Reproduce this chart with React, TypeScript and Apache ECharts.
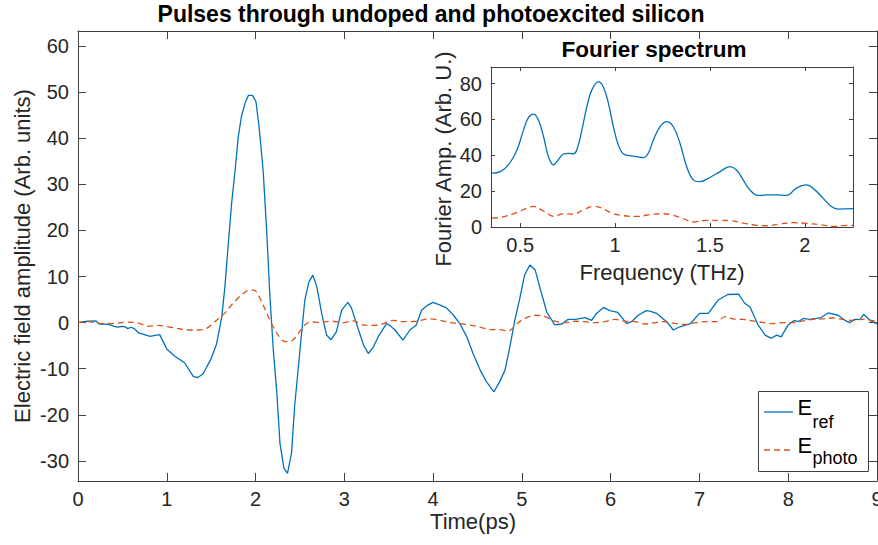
import React, { useEffect, useRef } from 'react';
import * as echarts from 'echarts';

// ---- Time-domain pulses (time in ps, field in arb. units) ----
const refTime = [0, 0.11, 0.2, 0.24, 0.34, 0.41, 0.45, 0.49, 0.53, 0.56, 0.6, 0.64, 0.68, 0.75, 0.81, 0.92, 1.0, 1.09, 1.2, 1.3, 1.35, 1.41, 1.5, 1.56, 1.62, 1.655, 1.69, 1.73, 1.77, 1.805, 1.84, 1.88, 1.92, 1.965, 2.005, 2.04, 2.085, 2.125, 2.16, 2.2, 2.24, 2.275, 2.32, 2.36, 2.405, 2.44, 2.5, 2.555, 2.6, 2.645, 2.69, 2.745, 2.8, 2.85, 2.91, 2.97, 3.04, 3.08, 3.16, 3.22, 3.27, 3.33, 3.38, 3.475, 3.52, 3.57, 3.66, 3.74, 3.81, 3.87, 3.94, 4.0, 4.08, 4.15, 4.23, 4.3, 4.38, 4.45, 4.53, 4.6, 4.685, 4.75, 4.81, 4.865, 4.92, 4.98, 5.03, 5.09, 5.15, 5.2, 5.28, 5.37, 5.45, 5.52, 5.6, 5.71, 5.785, 5.84, 5.92, 5.99, 6.08, 6.18, 6.235, 6.31, 6.4, 6.44, 6.52, 6.63, 6.705, 6.78, 6.9, 7.0, 7.1, 7.21, 7.32, 7.44, 7.51, 7.57, 7.66, 7.74, 7.81, 7.87, 7.92, 8.0, 8.07, 8.11, 8.17, 8.24, 8.32, 8.37, 8.45, 8.56, 8.64, 8.69, 8.75, 8.81, 8.85, 8.92, 8.97, 9.0];
const refField = [0.0, 0.3, 0.4, -0.3, -0.4, -0.8, -1.0, -0.8, -0.9, -1.3, -1.0, -1.4, -2.2, -2.6, -3.0, -2.6, -5.7, -7.3, -8.7, -11.7, -11.9, -11.1, -7.8, -4.7, 1.3, 7.8, 16.4, 25.8, 33.1, 40.3, 44.6, 47.5, 49.3, 49.3, 47.9, 42.4, 33.1, 20.0, 6.3, -6.0, -15.3, -26.2, -31.6, -32.7, -28.3, -18.2, -6.0, 4.9, 8.8, 10.3, 7.8, 2.0, -2.7, -3.7, -2.0, 2.7, 4.4, 3.2, -1.6, -5.0, -6.7, -5.2, -3.1, -0.2, -0.7, -1.6, -3.8, -1.6, -0.5, 2.7, 3.8, 4.4, 3.8, 3.2, 1.6, -0.2, -3.1, -6.7, -10.3, -12.8, -15.0, -12.8, -10.3, -5.2, 0.5, 5.6, 10.3, 12.5, 11.4, 7.8, 2.3, -0.5, -0.3, 0.7, 0.7, 1.1, 0.5, 2.0, 3.3, 2.6, 2.2, -0.2, 0.2, 1.6, 2.6, 2.5, 2.0, 0.2, -1.6, -0.9, -0.2, 2.0, 2.0, 4.9, 6.1, 6.2, 4.2, 3.4, -0.5, -2.7, -3.4, -2.7, -3.1, -0.5, 0.5, 0.2, 0.9, 0.7, 0.9, 1.1, 2.1, 1.6, 0.5, 0.0, 0.7, 0.7, 1.8, 0.5, 0.0, -0.2];

const photoTime = [0, 0.11, 0.225, 0.375, 0.56, 0.68, 0.79, 0.9, 1.05, 1.2, 1.35, 1.445, 1.54, 1.65, 1.76, 1.88, 1.94, 1.99, 2.03, 2.105, 2.18, 2.255, 2.33, 2.4, 2.48, 2.555, 2.63, 2.72, 2.86, 2.99, 3.1, 3.21, 3.33, 3.44, 3.55, 3.66, 3.81, 3.96, 4.08, 4.19, 4.3, 4.41, 4.53, 4.64, 4.75, 4.85, 4.93, 5.03, 5.15, 5.26, 5.37, 5.48, 5.6, 5.71, 5.82, 5.93, 6.05, 6.16, 6.28, 6.39, 6.5, 6.59, 6.74, 6.85, 6.96, 7.07, 7.19, 7.29, 7.38, 7.49, 7.6, 7.72, 7.83, 7.94, 8.06, 8.17, 8.28, 8.39, 8.5, 8.61, 8.73, 8.84, 9.0];
const photoField = [0.0, 0.2, -0.1, -0.2, 0.1, -0.1, -0.8, -0.6, -1.0, -1.5, -1.6, -1.3, 0.2, 2.0, 4.5, 6.6, 7.1, 7.0, 6.0, 3.0, -0.2, -2.7, -4.1, -4.0, -2.4, -0.5, 0.2, 0.0, 0.3, 0.0, 0.4, -0.5, -0.6, -0.2, 0.5, 0.2, 0.3, 0.8, 0.5, 0.0, -0.2, -0.5, -1.0, -1.5, -1.5, -1.8, -0.5, 0.9, 1.6, 1.3, 0.3, 0.0, 0.3, 0.2, 0.0, 0.2, 0.7, 0.3, 0.2, -0.3, 0.0, 0.2, -0.2, -0.4, 0.0, 0.2, 0.2, 1.3, 0.8, 0.7, 0.4, 0.0, -0.2, 0.0, 0.0, 0.4, 0.7, 0.8, 1.0, 0.7, 0.5, 0.7, 0.2];

// ---- Fourier spectrum (THz, arb. units) ----
const freqRef = [0.351, 0.395, 0.438, 0.483, 0.517, 0.544, 0.57, 0.596, 0.623, 0.649, 0.675, 0.7, 0.728, 0.754, 0.78, 0.798, 0.825, 0.851, 0.877, 0.912, 0.938, 0.965, 0.991, 1.017, 1.044, 1.079, 1.114, 1.149, 1.175, 1.202, 1.237, 1.272, 1.307, 1.342, 1.377, 1.412, 1.447, 1.5, 1.553, 1.605, 1.64, 1.675, 1.71, 1.754, 1.807, 1.851, 1.904, 1.956, 2.009, 2.053, 2.096, 2.14, 2.175, 2.254];
const ampRef = [30.0, 30.9, 34.6, 42.9, 54.0, 61.1, 62.9, 59.6, 50.3, 39.2, 34.6, 37.4, 40.7, 41.1, 40.7, 42.9, 54.0, 67.0, 76.3, 80.9, 78.1, 68.9, 55.9, 45.7, 40.7, 39.8, 39.2, 38.7, 41.1, 48.5, 55.9, 58.7, 55.9, 46.7, 33.7, 26.3, 25.3, 27.6, 30.9, 33.7, 31.8, 26.3, 20.7, 17.6, 17.9, 17.9, 17.6, 21.7, 23.5, 20.7, 16.1, 11.4, 10.0, 10.2];
const freqPhoto = [0.351, 0.4, 0.483, 0.535, 0.57, 0.605, 0.64, 0.675, 0.728, 0.78, 0.833, 0.886, 0.93, 0.983, 1.044, 1.114, 1.202, 1.254, 1.307, 1.36, 1.412, 1.482, 1.553, 1.614, 1.675, 1.745, 1.798, 1.868, 1.939, 2.009, 2.079, 2.149, 2.2, 2.254];
const ampPhoto = [5.0, 5.4, 8.1, 10.5, 11.5, 10.0, 7.8, 5.9, 7.4, 7.2, 9.6, 11.5, 10.5, 7.8, 6.3, 5.9, 7.2, 7.4, 6.5, 4.6, 2.8, 3.7, 3.7, 3.5, 2.2, 0.9, 0.7, 1.7, 2.4, 2.0, 1.3, 0.4, 0.8, 0.9];

// ---- Tick values ----
const mainXTicks = [0, 1, 2, 3, 4, 5, 6, 7, 8, 9];
const mainYTicks = [-30, -20, -10, 0, 10, 20, 30, 40, 50, 60];
const insetXTicks = [0.5, 1, 1.5, 2];
const insetYTicks = [0, 20, 40, 60, 80];

const zip = (xs: number[], ys: number[]) => xs.map((x, i) => [x, ys[i]]);

const FONT = '"Liberation Sans", Arial, Helvetica, sans-serif';
const AX = '#404040';
const TXT = '#262626';
const BLUE = '#0072BD';
const ORANGE = '#D95319';

function valueAxis(opts: any) {
  const { grid, min, max, ticks, pos, labels, tickLen, dim } = opts;
  return {
    type: 'value',
    gridIndex: grid,
    position: pos,
    min,
    max,
    scale: true,
    axisLine: { show: true, onZero: false, lineStyle: { color: AX, width: 1 } },
    axisTick: { show: true, inside: true, length: tickLen, customValues: ticks, lineStyle: { color: AX, width: 1 } },
    axisLabel: labels
      ? {
          show: true,
          customValues: ticks,
          fontSize: 20,
          color: TXT,
          fontFamily: FONT,
          margin: dim === 'x' ? 8 : 9,
          showMinLabel: true,
          showMaxLabel: true,
          hideOverlap: false,
        }
      : { show: false },
    splitLine: { show: false },
    minorTick: { show: false },
  };
}

function txt(x: number, y: number, text: string, size: number, extra: any = {}) {
  return {
    type: 'text',
    x,
    y,
    rotation: extra.rotation || 0,
    silent: true,
    style: {
      text,
      fontSize: size,
      fontFamily: FONT,
      fontWeight: extra.bold ? 'bold' : 'normal',
      fill: extra.fill || (extra.bold ? '#000' : TXT),
      align: extra.align || 'center',
      verticalAlign: 'middle',
      textAlign: extra.align || 'center',
      textVerticalAlign: 'middle',
    },
  };
}

export default function App() {
  const ref = useRef<HTMLDivElement>(null);
  useEffect(() => {
    if (!ref.current) return;
    const chart = echarts.init(ref.current, null, { renderer: 'svg' });
    const option: any = {
      animation: false,
      backgroundColor: '#fff',
      textStyle: { fontFamily: FONT },
      grid: [
        { left: 78, top: 31, width: 799, height: 450, outerBoundsMode: 'none', containLabel: false },
        {
          left: 491,
          top: 67,
          width: 362,
          height: 160,
          show: true,
          backgroundColor: '#fff',
          borderWidth: 0,
          outerBoundsMode: 'none',
          containLabel: false,
        },
      ],
      xAxis: [
        valueAxis({ grid: 0, min: 0, max: 9, ticks: mainXTicks, pos: 'bottom', labels: true, tickLen: 8, dim: 'x' }),
        valueAxis({ grid: 0, min: 0, max: 9, ticks: mainXTicks, pos: 'top', labels: false, tickLen: 8, dim: 'x' }),
        valueAxis({ grid: 1, min: 0.346, max: 2.254, ticks: insetXTicks, pos: 'bottom', labels: true, tickLen: 4, dim: 'x' }),
        valueAxis({ grid: 1, min: 0.346, max: 2.254, ticks: insetXTicks, pos: 'top', labels: false, tickLen: 4, dim: 'x' }),
      ],
      yAxis: [
        valueAxis({ grid: 0, min: -34.35, max: 63.25, ticks: mainYTicks, pos: 'left', labels: true, tickLen: 8, dim: 'y' }),
        valueAxis({ grid: 0, min: -34.35, max: 63.25, ticks: mainYTicks, pos: 'right', labels: false, tickLen: 8, dim: 'y' }),
        valueAxis({ grid: 1, min: 0, max: 89.2, ticks: insetYTicks, pos: 'left', labels: true, tickLen: 4, dim: 'y' }),
        valueAxis({ grid: 1, min: 0, max: 89.2, ticks: insetYTicks, pos: 'right', labels: false, tickLen: 4, dim: 'y' }),
      ],
      series: [
        {
          name: 'E_ref',
          type: 'line',
          xAxisIndex: 0,
          yAxisIndex: 0,
          data: zip(refTime, refField),
          symbol: 'none',
          lineStyle: { color: BLUE, width: 1.3 },
          itemStyle: { color: BLUE },
          z: 3,
        },
        {
          name: 'E_photo',
          type: 'line',
          xAxisIndex: 0,
          yAxisIndex: 0,
          data: zip(photoTime, photoField),
          symbol: 'none',
          smooth: 0.35,
          lineStyle: { color: ORANGE, width: 1.3, type: [6, 4] },
          itemStyle: { color: ORANGE },
          z: 4,
        },
        {
          name: 'Spectrum ref',
          type: 'line',
          xAxisIndex: 2,
          yAxisIndex: 2,
          data: zip(freqRef, ampRef),
          symbol: 'none',
          smooth: 0.4,
          lineStyle: { color: BLUE, width: 1.3 },
          itemStyle: { color: BLUE },
          z: 5,
        },
        {
          name: 'Spectrum photo',
          type: 'line',
          xAxisIndex: 2,
          yAxisIndex: 2,
          data: zip(freqPhoto, ampPhoto),
          symbol: 'none',
          smooth: 0.4,
          lineStyle: { color: ORANGE, width: 1.3, type: [6, 4] },
          itemStyle: { color: ORANGE },
          z: 5,
        },
      ],
      graphic: [
        txt(431, 14, 'Pulses through undoped and photoexcited silicon', 23, { bold: true }),
        txt(654, 49, 'Fourier spectrum', 22.5, { bold: true }),
        txt(22, 256, 'Electric field amplitude (Arb. units)', 22, { rotation: Math.PI / 2 }),
        txt(473, 521, 'Time(ps)', 22),
        txt(443, 159, 'Fourier Amp. (Arb. U.)', 22, { rotation: Math.PI / 2 }),
        txt(662, 272, 'Frequency (THz)', 22),
        {
          type: 'group',
          z: 100,
          children: [
            {
              type: 'rect',
              shape: { x: 758.5, y: 391.5, width: 110, height: 80 },
              style: { fill: '#fff', stroke: AX, lineWidth: 1 },
            },
            {
              type: 'line',
              shape: { x1: 764, y1: 412, x2: 793, y2: 412 },
              style: { stroke: BLUE, lineWidth: 1.3 },
            },
            {
              type: 'line',
              shape: { x1: 764, y1: 450, x2: 793, y2: 450 },
              style: { stroke: ORANGE, lineWidth: 1.3, lineDash: [6, 4] },
            },
            txt(797.5, 407.5, 'E', 22, { align: 'left', fill: '#000' }),
            txt(812.5, 421.5, 'ref', 18, { align: 'left', fill: '#000' }),
            txt(797.5, 445, 'E', 22, { align: 'left', fill: '#000' }),
            txt(812.5, 457.5, 'photo', 18, { align: 'left', fill: '#000' }),
          ],
        },
      ],
    };
    chart.setOption(option);
    return () => chart.dispose();
  }, []);
  return <div ref={ref} style={{ position: 'fixed', left: 0, top: 0, width: 878, height: 545 }} />;
}
